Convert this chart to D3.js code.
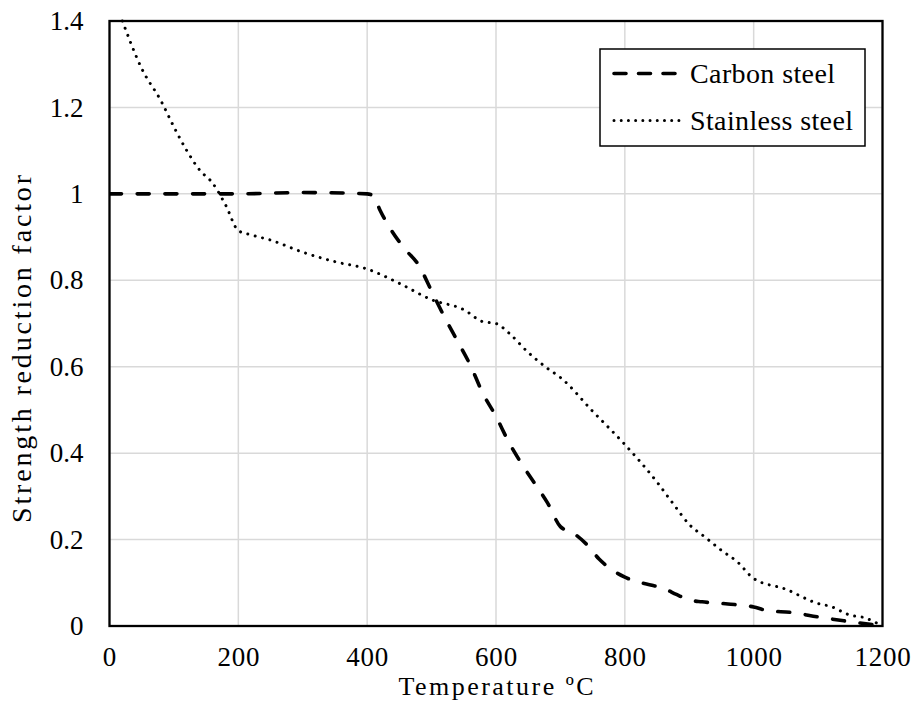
<!DOCTYPE html>
<html>
<head>
<meta charset="utf-8">
<script src="https://cdn.jsdelivr.net/npm/d3@7"></script>
<style>
  html, body { margin: 0; padding: 0; background: #fff; }
</style>
</head>
<body>
<svg id="chart" width="918" height="723" font-family="'Liberation Serif', 'Times New Roman', Times, serif"></svg>
<script>
// ---- Data ----
const carbonTemp = [0, 100, 200, 300, 400, 410, 420, 440, 460, 480, 500, 520, 540, 560, 580, 600, 620, 640, 660, 680, 700, 720, 740, 760, 780, 800, 820, 840, 860, 880, 900, 920, 960, 1000, 1020, 1060, 1100, 1140, 1200];
const carbonValue = [1.0, 1.0, 1.0, 1.003, 1.0, 0.995, 0.962, 0.91, 0.87, 0.835, 0.775, 0.715, 0.66, 0.604, 0.537, 0.485, 0.425, 0.375, 0.33, 0.285, 0.23, 0.215, 0.19, 0.155, 0.13, 0.113, 0.102, 0.095, 0.087, 0.073, 0.06, 0.056, 0.051, 0.044, 0.036, 0.031, 0.021, 0.012, 0.0];

const stainlessTemp = [20, 50, 80, 100, 120, 140, 160, 180, 200, 220, 250, 300, 350, 400, 450, 500, 550, 580, 600, 620, 650, 680, 700, 750, 800, 850, 875, 900, 925, 950, 975, 1000, 1050, 1100, 1120, 1150, 1170, 1200];
const stainlessValue = [1.40, 1.29, 1.215, 1.155, 1.10, 1.055, 1.025, 0.975, 0.915, 0.905, 0.893, 0.865, 0.843, 0.826, 0.793, 0.755, 0.732, 0.704, 0.70, 0.678, 0.633, 0.596, 0.575, 0.497, 0.42, 0.333, 0.283, 0.235, 0.205, 0.175, 0.148, 0.11, 0.085, 0.052, 0.045, 0.025, 0.02, 0.0];

const xTicks = [0, 200, 400, 600, 800, 1000, 1200];
const yTicks = [0, 0.2, 0.4, 0.6, 0.8, 1.0, 1.2, 1.4];
const seriesNames = ["Carbon steel", "Stainless steel"];
const xTitle = "Temperature ºC";
const yTitle = "Strength reduction factor";

(function () {
// ---- Layout ----
const FONT = "Liberation Serif";
const pL = 109.5, pR = 882.5, pT = 21, pB = 626;
const svg = d3.select("#chart");

const x = d3.scaleLinear().domain([0, 1200]).range([pL, pR]);
const y = d3.scaleLinear().domain([0, 1.4]).range([pB, pT]);

// gridlines
svg.append("g").selectAll("line").data(xTicks).join("line")
  .attr("x1", d => x(d)).attr("x2", d => x(d))
  .attr("y1", pT).attr("y2", pB)
  .attr("stroke", "#d9d9d9").attr("stroke-width", 1.5);
svg.append("g").selectAll("line").data(yTicks).join("line")
  .attr("x1", pL).attr("x2", pR)
  .attr("y1", d => y(d)).attr("y2", d => y(d))
  .attr("stroke", "#d9d9d9").attr("stroke-width", 1.5);

// frame
svg.append("rect")
  .attr("x", pL).attr("y", pT)
  .attr("width", pR - pL).attr("height", pB - pT)
  .attr("fill", "none").attr("stroke", "#000").attr("stroke-width", 2.3);

const fs = 27;
const xAxis = svg.append("g").attr("transform", `translate(0,${pB})`)
  .call(d3.axisBottom(x).tickValues(xTicks).tickSize(0).tickPadding(21).tickFormat(d3.format("d")));
xAxis.attr("font-family", FONT).attr("font-size", fs);
xAxis.select(".domain").remove();
xAxis.selectAll("text").attr("font-family", FONT).attr("font-size", fs).attr("fill", "#000").attr("letter-spacing", 0.8);

const yAxis = svg.append("g").attr("transform", `translate(${pL},0)`)
  .call(d3.axisLeft(y).tickValues(yTicks).tickSize(0).tickPadding(26).tickFormat(d => String(+d.toFixed(1))));
yAxis.attr("font-family", FONT).attr("font-size", fs);
yAxis.select(".domain").remove();
yAxis.selectAll("text").attr("font-family", FONT).attr("font-size", fs).attr("fill", "#000");

// titles
svg.append("text").attr("x", (pL + pR) / 2).attr("y", 695)
  .attr("text-anchor", "middle").attr("font-family", FONT).attr("font-size", 26)
  .attr("textLength", 195).attr("lengthAdjust", "spacing").text(xTitle);
svg.append("text").attr("transform", `translate(31,349) rotate(-90)`)
  .attr("text-anchor", "middle").attr("font-family", FONT).attr("font-size", 28)
  .attr("textLength", 348).attr("lengthAdjust", "spacing").text(yTitle);

// lines
svg.append("clipPath").attr("id", "clip").append("rect")
  .attr("x", pL).attr("y", pT - 2).attr("width", pR - pL + 2).attr("height", pB - pT + 4);

const line = d3.line().x(d => x(d[0])).y(d => y(d[1])).curve(d3.curveMonotoneX);
const carbon = carbonTemp.map((t, i) => [t, carbonValue[i]]);
const stainless = stainlessTemp.map((t, i) => [t, stainlessValue[i]]);

const dashStyle = { dash: "12 15.7", width: 3.6 };
const dotStyle = { dash: "0.01 7.6", width: 3 };

svg.append("path").datum(carbon).attr("d", line)
  .attr("fill", "none").attr("stroke", "#000")
  .attr("stroke-width", dashStyle.width).attr("stroke-dasharray", dashStyle.dash)
  .attr("stroke-linecap", "round").attr("clip-path", "url(#clip)");
svg.append("path").datum(stainless).attr("d", line)
  .attr("fill", "none").attr("stroke", "#000")
  .attr("stroke-width", dotStyle.width).attr("stroke-dasharray", dotStyle.dash)
  .attr("stroke-linecap", "round");

// legend
const lg = svg.append("g");
lg.append("rect").attr("x", 600).attr("y", 49).attr("width", 265).attr("height", 97)
  .attr("fill", "#fff").attr("stroke", "#000").attr("stroke-width", 1.5);
const legendItems = [
  { name: seriesNames[0], y: 73.5, s: dashStyle, d: "12 12.5", len: 145 },
  { name: seriesNames[1], y: 120.5, s: dotStyle, d: "0.01 7.2", len: 163 }
];
legendItems.forEach(it => {
  lg.append("line").attr("x1", 614).attr("x2", 681).attr("y1", it.y).attr("y2", it.y)
    .attr("stroke", "#000").attr("stroke-width", it.s.width)
    .attr("stroke-dasharray", it.d)
    .attr("stroke-linecap", "round");
  lg.append("text").attr("x", 690).attr("y", it.y + 9.5).attr("font-family", FONT).attr("font-size", 28)
    .attr("textLength", it.len).attr("lengthAdjust", "spacing").text(it.name);
});
})();
</script>
</body>
</html>
